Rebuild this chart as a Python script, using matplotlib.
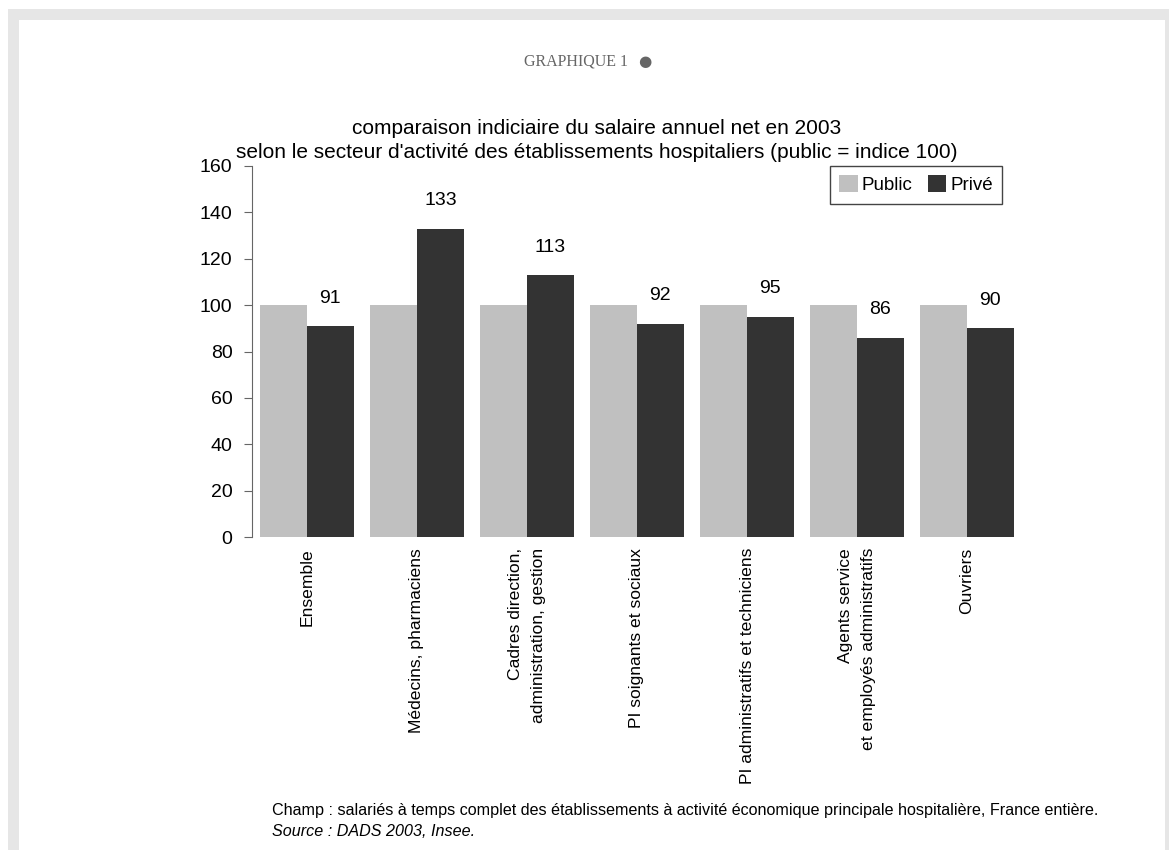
import numpy as np
import matplotlib
matplotlib.use("Agg")
import matplotlib.pyplot as plt
from matplotlib.patches import Rectangle

categories = [
    "Ensemble",
    "Médecins, pharmaciens",
    "Cadres direction,\nadministration, gestion",
    "PI soignants et sociaux",
    "PI administratifs et techniciens",
    "Agents service\net employés administratifs",
    "Ouvriers",
]
public = [100, 100, 100, 100, 100, 100, 100]
prive = [91, 133, 113, 92, 95, 86, 90]
yticks = [0, 20, 40, 60, 80, 100, 120, 140, 160]

plt.rcParams["font.family"] = ["Liberation Sans", "DejaVu Sans"]

fig = plt.figure(figsize=(11.69, 8.5), dpi=100)
W, H = 1169, 850

# grey frame round the page
fig.patches.append(Rectangle((8 / W, 0), 1 - 8 / W, 1 - 9 / H, transform=fig.transFigure,
                             facecolor="#e6e6e6", edgecolor="none", zorder=-10))
fig.patches.append(Rectangle((19 / W, 0), (1165 - 19) / W, 1 - 20 / H, transform=fig.transFigure,
                             facecolor="white", edgecolor="none", zorder=-9))

fig.text(628 / W, 1 - 62 / H, "GRAPHIQUE 1", ha="right", va="center", fontsize=11.5,
         color="#666666", family=["Liberation Serif", "DejaVu Serif"])
fig.text(645 / W, 1 - 62 / H, "●", ha="center", va="center", fontsize=11,
         color="#666666", family=["DejaVu Sans"])

fig.text(597 / W, 1 - 128 / H, "comparaison indiciaire du salaire annuel net en 2003",
         ha="center", va="center", fontsize=15)
fig.text(597 / W, 1 - 153 / H,
         "selon le secteur d'activité des établissements hospitaliers (public = indice 100)",
         ha="center", va="center", fontsize=15)

ax = fig.add_axes([252 / W, 1 - 537 / H, (1022 - 252) / W, (537 - 166) / H])
x = np.arange(len(categories))
w = 0.425
ax.bar(x - w / 2, public, w, color="#c0c0c0", label="Public")
bars = ax.bar(x + w / 2, prive, w, color="#333333", label="Privé")

for b, v in zip(bars, prive):
    ax.annotate(str(v), (b.get_x() + b.get_width() / 2, v), xytext=(0, 14),
                textcoords="offset points", ha="center", va="bottom", fontsize=14)

ax.set_xlim(-0.5, len(categories) - 0.5)
ax.set_ylim(0, 160)
ax.set_yticks(yticks)
ax.tick_params(axis="y", labelsize=14, length=6, color="#666666", pad=8)
ax.set_xticks(x)
ax.set_xticklabels(categories, rotation=90, fontsize=12.6, ha="center", va="top",
                   multialignment="right", linespacing=1.6)
ax.tick_params(axis="x", length=0, pad=8)
for s in ["top", "right", "bottom"]:
    ax.spines[s].set_visible(False)
ax.spines["left"].set_color("#666666")

leg = ax.legend(ncol=2, loc="upper right", bbox_to_anchor=(1002 / W, 1 - 166 / H),
                bbox_transform=fig.transFigure, fontsize=13.5, frameon=True, fancybox=False,
                handlelength=1.0, handleheight=1.0, handletextpad=0.2, columnspacing=0.8,
                borderpad=0.5, borderaxespad=0, framealpha=1)
leg.get_frame().set_edgecolor("#444444")
leg.get_frame().set_linewidth(1.0)

fig.text(272 / W, 1 - 811 / H,
         "Champ : salariés à temps complet des établissements à activité économique principale "
         "hospitalière, France entière.", ha="left", va="center", fontsize=11.6)
fig.text(272 / W, 1 - 831 / H, "Source : DADS 2003, Insee.", ha="left", va="center",
         fontsize=11.6, style="italic")

fig.savefig("out.png", dpi=100)
